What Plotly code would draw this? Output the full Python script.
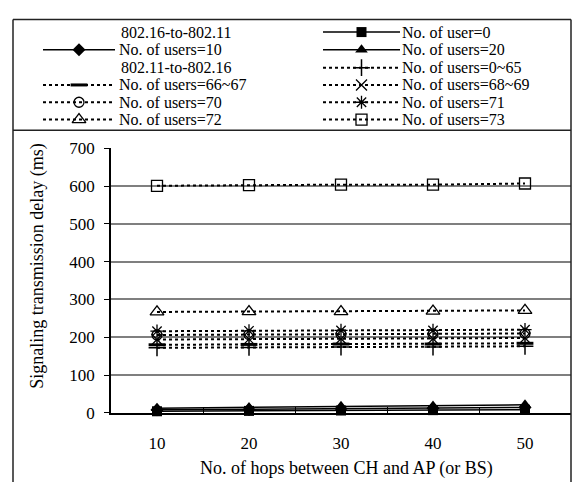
import plotly.graph_objects as go

# Hop counts on the x axis
hops = ["10", "20", "30", "40", "50"]

# 802.16-to-802.11 signalling delay (ms)
users_0 = [4, 5, 6, 7, 8]
users_10 = [8, 9, 11, 12, 14]
users_20 = [12, 14, 17, 18, 21]

# 802.11-to-802.16 signalling delay (ms)
users_0_65 = [172, 173, 174, 174, 176]
users_66_67 = [180, 181, 182, 182, 184]
users_68_69 = [194, 195, 196, 196, 198]
users_70 = [206, 207, 208, 208, 210]
users_71 = [216, 217, 218, 218, 220]
users_72 = [267, 268, 268, 269, 271]
users_73 = [601, 603, 604, 604, 607]

y_ticks = [0, 100, 200, 300, 400, 500, 600, 700]

FONT = "Liberation Serif, Times New Roman, Times, DejaVu Serif, serif"
W, H = 572, 492
# plot box in pixels (left, top, right, bottom)
PL, PT, PR, PB = 111, 145, 571, 420


def fx(px):
    return px / W


def fy(py):
    return 1 - py / H


# name, values, symbol, size, marker line width, solid?, legend column, legend row
series = [
    ("No. of user=0", users_0, "square", 10, 0, True, 1, 0),
    ("No. of users=10", users_10, "diamond", 10, 0, True, 0, 1),
    ("No. of users=20", users_20, "triangle-up", 11, 0, True, 1, 1),
    ("No. of users=0~65", users_0_65, "cross-thin", 12, 1.5, False, 1, 2),
    ("No. of users=66~67", users_66_67, "line-ew", 12, 3, False, 0, 3),
    ("No. of users=68~69", users_68_69, "x-thin", 11, 1.3, False, 1, 3),
    ("No. of users=70", users_70, "circle-open", 10, 1.3, False, 0, 4),
    ("No. of users=71", users_71, "asterisk", 11, 1.3, False, 1, 4),
    ("No. of users=72", users_72, "triangle-up-open", 12, 1.3, False, 0, 5),
    ("No. of users=73", users_73, "square-open", 11, 1.3, False, 1, 5),
]
headers = [("802.16-to-802.11", 0, 0), ("802.11-to-802.16", 0, 2)]

fig = go.Figure()

for name, vals, sym, size, mlw, solid, _, _ in series:
    fig.add_trace(go.Scatter(
        x=hops, y=vals, mode="lines+markers", name=name, showlegend=False,
        line=dict(color="black", width=1.5 if solid else 2,
                  dash="solid" if solid else "3px,3px"),
        marker=dict(symbol=sym, size=size, color="black",
                    line=dict(color="black", width=mlw)),
        cliponaxis=False,
    ))

# Legend block above the plot, laid out on a full-figure pixel axis pair
col_line = [(43, 115), (323, 400)]
col_text = [118, 401]
row_y = [24, 42.5, 61, 79, 97, 115]
LEG_FONT = dict(family=FONT, size=16, color="black")

annotations = []
for name, vals, sym, size, mlw, solid, col, row in series:
    x0, x1 = col_line[col]
    y = row_y[row]
    fig.add_trace(go.Scatter(
        x=[x0, x1], y=[y, y], mode="lines", xaxis="x2", yaxis="y2",
        showlegend=False, hoverinfo="skip",
        line=dict(color="black", width=1.5 if solid else 2,
                  dash="solid" if solid else "3px,3px"),
    ))
    fig.add_trace(go.Scatter(
        x=[(x0 + x1) / 2], y=[y], mode="markers", xaxis="x2", yaxis="y2",
        showlegend=False, hoverinfo="skip",
        marker=dict(symbol=sym, size=size, color="black",
                    line=dict(color="black", width=mlw)),
    ))
    annotations.append(dict(text=name, xref="paper", yref="paper",
                            x=fx(col_text[col]), y=fy(y),
                            xanchor="left", yanchor="middle", showarrow=False,
                            borderpad=0, font=LEG_FONT))
for text, col, row in headers:
    annotations.append(dict(text=text, xref="paper", yref="paper",
                            x=fx(col_text[col] + 2), y=fy(row_y[row]),
                            xanchor="left", yanchor="middle", showarrow=False,
                            borderpad=0, font=LEG_FONT))

# Outer frame (open at the bottom edge of the page) and legend separator
frame = dict(color="#222", width=1.5)
shapes = [
    dict(type="line", xref="paper", yref="paper",
         x0=fx(13), x1=fx(13), y0=0, y1=fy(11), line=frame),
    dict(type="line", xref="paper", yref="paper",
         x0=fx(571), x1=fx(571), y0=0, y1=fy(11), line=frame),
    dict(type="line", xref="paper", yref="paper",
         x0=fx(13), x1=fx(571), y0=fy(11), y1=fy(11), line=frame),
    dict(type="line", xref="paper", yref="paper",
         x0=fx(13), x1=fx(571), y0=fy(126), y1=fy(126), line=frame),
]

# Axis titles
annotations.append(dict(text="No. of hops between CH and AP (or BS)",
                        xref="paper", yref="paper", x=fx(346), y=fy(478),
                        xanchor="center", yanchor="middle", showarrow=False,
                        font=dict(family=FONT, size=18, color="black")))
annotations.append(dict(text="Signaling transmission delay (ms)",
                        xref="paper", yref="paper", x=fx(38), y=fy(268),
                        xanchor="center", yanchor="middle", showarrow=False,
                        textangle=-90,
                        font=dict(family=FONT, size=18, color="black")))

fig.update_layout(
    width=W, height=H,
    margin=dict(l=0, r=0, t=0, b=0),
    paper_bgcolor="white", plot_bgcolor="rgba(0,0,0,0)",
    showlegend=False,
    xaxis=dict(domain=[fx(PL), fx(PR)], anchor="y",
               type="category", categoryorder="array", categoryarray=hops,
               range=[-0.5, 4.5], showgrid=False, zeroline=False,
               showline=True, linecolor="black", linewidth=1.5,
               ticks="inside", tickson="boundaries", ticklen=6,
               tickcolor="black", tickwidth=1,
               ticklabelstandoff=14,
               tickfont=dict(family=FONT, size=17, color="black")),
    yaxis=dict(domain=[fy(PB), fy(PT)], anchor="x",
               range=[0, 700], tickvals=y_ticks, showgrid=True,
               gridcolor="#7f7f7f", gridwidth=1.5, zeroline=False,
               showline=True, linecolor="black", linewidth=1.5,
               ticks="outside", ticklen=5, tickcolor="black",
               ticklabelstandoff=6,
               tickfont=dict(family=FONT, size=17, color="black")),
    xaxis2=dict(domain=[0, 1], range=[0, W], visible=False, anchor="y2"),
    yaxis2=dict(domain=[0, 1], range=[H, 0], visible=False, anchor="x2"),
    shapes=shapes,
    annotations=annotations,
)

fig.write_html("out.html")
